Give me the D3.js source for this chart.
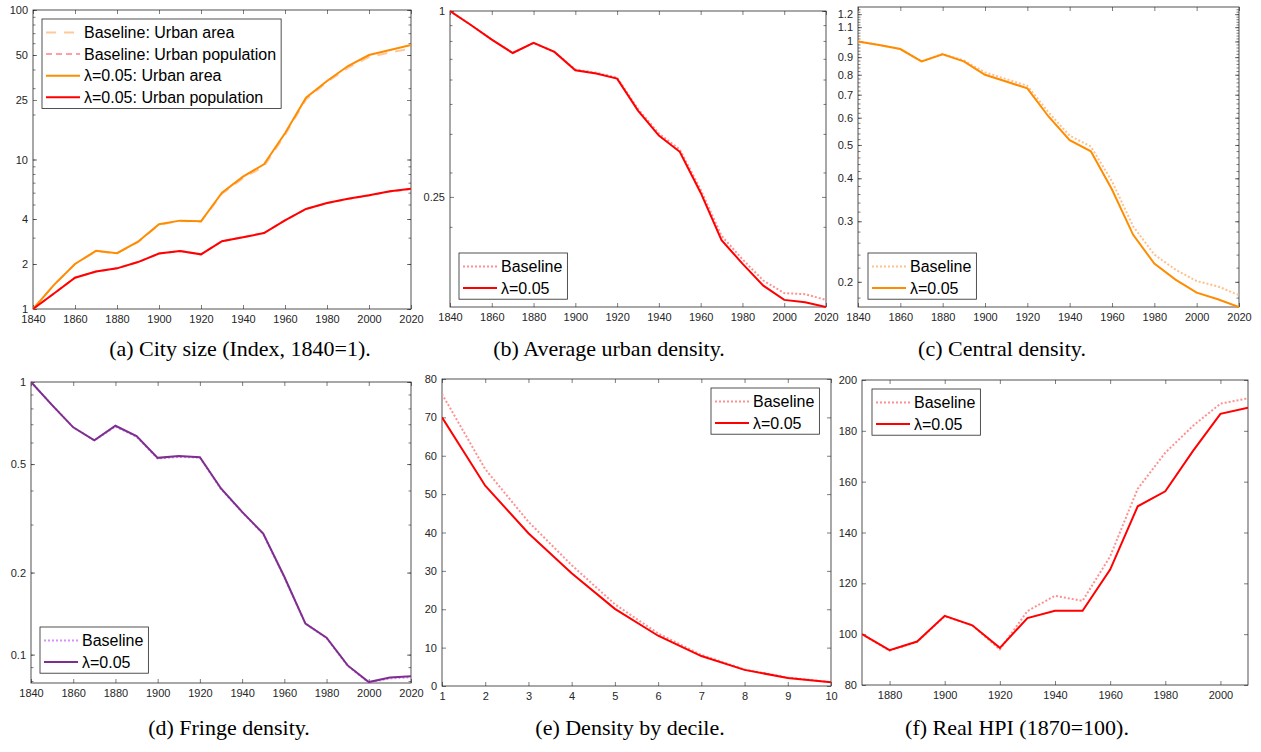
<!DOCTYPE html>
<html>
<head>
<meta charset="utf-8">
<script src="https://cdn.jsdelivr.net/npm/d3@7"></script>
<style>
  body { margin: 0; background: #fff; }
  svg text { font-family: "Liberation Sans", Arial, sans-serif; }
  .tick text { fill: #262626; font-size: 11px; }
  .caption { font-family: "Liberation Serif", "DejaVu Serif", serif !important; font-size: 22px; fill: #000; }
</style>
</head>
<body>
<div id="chart"></div>
<script>
const width = 1261;
const height = 752;

// --- data ---
const years = [1840, 1850, 1860, 1870, 1880, 1890, 1900, 1910, 1920, 1930,
               1940, 1950, 1960, 1970, 1980, 1990, 2000, 2010, 2020];

// (a) city size, index 1840=1
const areaBase = [1, 1.45, 2.0, 2.44, 2.35, 2.8, 3.66, 3.88, 3.84, 5.9, 7.5, 9.0, 14.6, 25.2, 33.0, 41.0, 48.5, 52.0, 55.2];
const areaLam  = [1, 1.45, 2.0, 2.45, 2.36, 2.82, 3.69, 3.90, 3.86, 6.0, 7.68, 9.29, 14.97, 25.9, 33.5, 42.2, 50.0, 54.0, 58.3];
const popBase  = [1, 1.27, 1.62, 1.78, 1.87, 2.06, 2.35, 2.44, 2.32, 2.84, 3.02, 3.22, 3.92, 4.66, 5.10, 5.45, 5.74, 6.10, 6.35];
const popLam   = [1, 1.27, 1.62, 1.78, 1.87, 2.06, 2.35, 2.44, 2.32, 2.84, 3.02, 3.22, 3.92, 4.67, 5.12, 5.47, 5.76, 6.13, 6.38];

// (b) average urban density
const avgBase = [1, 0.901, 0.808, 0.731, 0.788, 0.737, 0.646, 0.631, 0.608, 0.482, 0.401, 0.356, 0.264, 0.187, 0.157, 0.134, 0.122, 0.121, 0.116];
const avgLam  = [1, 0.901, 0.808, 0.731, 0.788, 0.737, 0.643, 0.627, 0.604, 0.476, 0.395, 0.350, 0.258, 0.181, 0.152, 0.129, 0.116, 0.114, 0.110];

// (c) central density
const cenBase = [1, 0.976, 0.95, 0.875, 0.920, 0.880, 0.813, 0.777, 0.743, 0.622, 0.532, 0.495, 0.392, 0.290, 0.240, 0.217, 0.201, 0.194, 0.183];
const cenLam  = [1, 0.976, 0.95, 0.875, 0.917, 0.875, 0.800, 0.765, 0.730, 0.605, 0.516, 0.479, 0.371, 0.274, 0.226, 0.203, 0.186, 0.178, 0.169];

// (d) fringe density
const frBase = [1, 0.823, 0.682, 0.611, 0.686, 0.630, 0.524, 0.531, 0.528, 0.405, 0.333, 0.277, 0.192, 0.130, 0.1150, 0.0910, 0.0790, 0.0818, 0.0826];
const frLam  = [1, 0.823, 0.682, 0.611, 0.691, 0.633, 0.527, 0.535, 0.530, 0.407, 0.334, 0.278, 0.193, 0.130, 0.1154, 0.0913, 0.0793, 0.0825, 0.0834];

// (e) density by decile
const deciles = [1, 2, 3, 4, 5, 6, 7, 8, 9, 10];
const decBase = [76.1, 56.5, 42.8, 31.5, 21.3, 13.7, 8.1, 4.3, 2.2, 1.0];
const decLam  = [70.0, 52.2, 39.8, 29.4, 20.1, 13.1, 7.8, 4.2, 2.1, 0.96];

// (f) real HPI, 1870=100
const hpiYears = [1870, 1880, 1890, 1900, 1910, 1920, 1930, 1940, 1950, 1960, 1970, 1980, 1990, 2000, 2010];
const hpiBase = [100, 93.5, 97.0, 107.0, 103.5, 94.0, 109.1, 115.1, 113.1, 130.6, 157.2, 171.4, 181.9, 190.7, 192.8];
const hpiLam  = [100, 93.7, 97.1, 107.2, 103.5, 94.6, 106.3, 109.2, 109.2, 125.4, 150.3, 156.2, 172.0, 186.7, 189.1];

// tick labels
const yearTicks = [1840, 1860, 1880, 1900, 1920, 1940, 1960, 1980, 2000, 2020];
const hpiYearTicks = [1880, 1900, 1920, 1940, 1960, 1980, 2000];
const sizeTicks = [1, 2, 4, 10, 25, 50, 100];
const avgTicks = [0.25, 1];
const cenTicks = [0.2, 0.3, 0.4, 0.5, 0.6, 0.7, 0.8, 0.9, 1, 1.1, 1.2];
const frTicks = [0.1, 0.2, 0.5, 1];
const decYTicks = [0, 10, 20, 30, 40, 50, 60, 70, 80];
const hpiYTicks = [80, 100, 120, 140, 160, 180, 200];

const captions = [
  "(a) City size (Index, 1840=1).",
  "(b) Average urban density.",
  "(c) Central density.",
  "(d) Fringe density.",
  "(e) Density by decile.",
  "(f) Real HPI (1870=100)."
];

const ORANGE = "#ff8c00", RED = "#ff0000", PURPLE = "#7e2f8e";

const svg = d3.select("#chart").append("svg")
  .attr("width", width)
  .attr("height", height);

function logMinor(domain) {
  const out = [];
  const lo = Math.floor(Math.log10(domain[0])), hi = Math.ceil(Math.log10(domain[1]));
  for (let e = lo; e <= hi; e++) {
    for (let k = 1; k <= 9; k++) {
      const v = k * Math.pow(10, e);
      if (v >= domain[0] && v <= domain[1]) out.push(v);
    }
  }
  return out;
}

const panels = [
  {
    box: {l: 33, t: 10, r: 411, b: 309}, xs: years, xDomain: [1840, 2020], xTicks: yearTicks,
    yType: "log", yDomain: [1, 100], yTicks: sizeTicks, yMinor: logMinor([1, 100]),
    series: [
      {y: areaBase, color: "#ffc89b", dash: "10,8", name: "Baseline: Urban area"},
      {y: popBase, color: "#ffa0a0", dash: "6,4", name: "Baseline: Urban population"},
      {y: areaLam, color: ORANGE, dash: null, name: "\u03bb=0.05: Urban area"},
      {y: popLam, color: RED, dash: null, name: "\u03bb=0.05: Urban population"}
    ],
    legend: {x: 42, y: 19},
    caption: {x: 240, y: 356}
  },
  {
    box: {l: 450, t: 11, r: 826, b: 307}, xs: years, xDomain: [1840, 2020], xTicks: yearTicks,
    yType: "log", yDomain: [0.11, 1], yTicks: avgTicks, yMinor: logMinor([0.11, 1]),
    series: [
      {y: avgBase, color: "#ff9090", dash: "2,2", name: "Baseline"},
      {y: avgLam, color: RED, dash: null, name: "\u03bb=0.05"}
    ],
    legend: {x: 459, y: 253},
    caption: {x: 609, y: 356}
  },
  {
    box: {l: 858, t: 7, r: 1239, b: 307}, xs: years, xDomain: [1840, 2020], xTicks: yearTicks,
    yType: "log", yDomain: [0.169, 1.259], yTicks: cenTicks,
    yMinor: d3.range(0.18, 1.26, 0.02),
    series: [
      {y: cenBase, color: "#ffc08c", dash: "2,2", name: "Baseline"},
      {y: cenLam, color: ORANGE, dash: null, name: "\u03bb=0.05"}
    ],
    legend: {x: 868, y: 253},
    caption: {x: 1002, y: 356}
  },
  {
    box: {l: 31, t: 382, r: 411, b: 683}, xs: years, xDomain: [1840, 2020], xTicks: yearTicks,
    yType: "log", yDomain: [0.0787, 1], yTicks: frTicks, yMinor: logMinor([0.0787, 1]),
    series: [
      {y: frBase, color: "#d890ff", dash: "2,2", name: "Baseline"},
      {y: frLam, color: PURPLE, dash: null, name: "\u03bb=0.05"}
    ],
    legend: {x: 40, y: 627},
    caption: {x: 229, y: 735}
  },
  {
    box: {l: 442, t: 379, r: 831, b: 686}, xs: deciles, xDomain: [1, 10], xTicks: deciles,
    yType: "linear", yDomain: [0, 80], yTicks: decYTicks, yMinor: [],
    series: [
      {y: decBase, color: "#ff9090", dash: "2,2", name: "Baseline"},
      {y: decLam, color: RED, dash: null, name: "\u03bb=0.05"}
    ],
    legend: {x: 711, y: 388},
    caption: {x: 630, y: 735}
  },
  {
    box: {l: 862, t: 380, r: 1248, b: 685}, xs: hpiYears, xDomain: [1870, 2010], xTicks: hpiYearTicks,
    yType: "linear", yDomain: [80, 200], yTicks: hpiYTicks, yMinor: [],
    series: [
      {y: hpiBase, color: "#ff9090", dash: "2,2", name: "Baseline"},
      {y: hpiLam, color: RED, dash: null, name: "\u03bb=0.05"}
    ],
    legend: {x: 872, y: 389},
    caption: {x: 1017, y: 735}
  }
];

panels.forEach(function(p, i) {
  const b = p.box;
  const x = d3.scaleLinear().domain(p.xDomain).range([b.l, b.r]);
  const y = (p.yType === "log" ? d3.scaleLog() : d3.scaleLinear())
    .domain(p.yDomain).range([b.b, b.t]);

  const g = svg.append("g");

  const clipId = "clip" + i;
  g.append("clipPath").attr("id", clipId)
    .append("rect")
    .attr("x", b.l).attr("y", b.t - 1)
    .attr("width", b.r - b.l).attr("height", b.b - b.t + 2);

  const fmt = d3.format("~g");

  // axes with inward ticks on all four sides
  g.append("g").attr("transform", `translate(0,${b.b})`)
    .call(d3.axisBottom(x).tickValues(p.xTicks).tickFormat(fmt).tickSize(-4).tickPadding(6));
  g.append("g").attr("transform", `translate(0,${b.t})`)
    .call(d3.axisTop(x).tickValues(p.xTicks).tickFormat("").tickSize(-4));
  g.append("g").attr("transform", `translate(${b.l},0)`)
    .call(d3.axisLeft(y).tickValues(p.yTicks).tickFormat(fmt).tickSize(-4).tickPadding(5));
  g.append("g").attr("transform", `translate(${b.r},0)`)
    .call(d3.axisRight(y).tickValues(p.yTicks).tickFormat("").tickSize(-4));

  if (p.yMinor.length) {
    g.append("g").attr("class", "minor").attr("transform", `translate(${b.l},0)`)
      .call(d3.axisLeft(y).tickValues(p.yMinor).tickFormat("").tickSize(-2.5));
    g.append("g").attr("class", "minor").attr("transform", `translate(${b.r},0)`)
      .call(d3.axisRight(y).tickValues(p.yMinor).tickFormat("").tickSize(-2.5));
  }

  g.selectAll(".domain").remove();
  g.selectAll(".tick line").attr("stroke", "#262626").attr("stroke-width", 0.6);

  g.append("rect")
    .attr("x", b.l).attr("y", b.t)
    .attr("width", b.r - b.l).attr("height", b.b - b.t)
    .attr("fill", "none")
    .attr("stroke", "#262626")
    .attr("stroke-width", 0.8);

  const line = d3.line()
    .x((d, k) => x(p.xs[k]))
    .y(d => y(d));

  g.append("g").attr("clip-path", `url(#${clipId})`)
    .selectAll("path")
    .data(p.series)
    .enter().append("path")
    .attr("d", d => line(d.y))
    .attr("fill", "none")
    .attr("stroke", d => d.color)
    .attr("stroke-width", 2)
    .attr("stroke-dasharray", d => d.dash);

  // legend
  const lg = g.append("g").attr("transform", `translate(${p.legend.x},${p.legend.y})`);
  const rowH = 21.6;
  const box = lg.append("rect")
    .attr("fill", "#fff")
    .attr("stroke", "#262626")
    .attr("stroke-width", 0.8);
  let maxW = 0;
  p.series.forEach(function(s, k) {
    const ry = 13.5 + k * rowH;
    lg.append("line")
      .attr("x1", 4).attr("x2", 38)
      .attr("y1", ry).attr("y2", ry)
      .attr("stroke", s.color)
      .attr("stroke-width", 2)
      .attr("stroke-dasharray", s.dash);
    const t = lg.append("text")
      .attr("x", 42).attr("y", ry)
      .attr("dy", "0.35em")
      .attr("font-size", 16)
      .attr("fill", "#000")
      .text(s.name);
    maxW = Math.max(maxW, t.node().getComputedTextLength());
  });
  box.attr("x", 0).attr("y", 0)
    .attr("width", 42 + maxW + 5)
    .attr("height", p.series.length * rowH + 3);

  svg.append("text")
    .attr("class", "caption")
    .attr("x", p.caption.x)
    .attr("y", p.caption.y)
    .attr("text-anchor", "middle")
    .text(captions[i]);
});
</script>
</body>
</html>
